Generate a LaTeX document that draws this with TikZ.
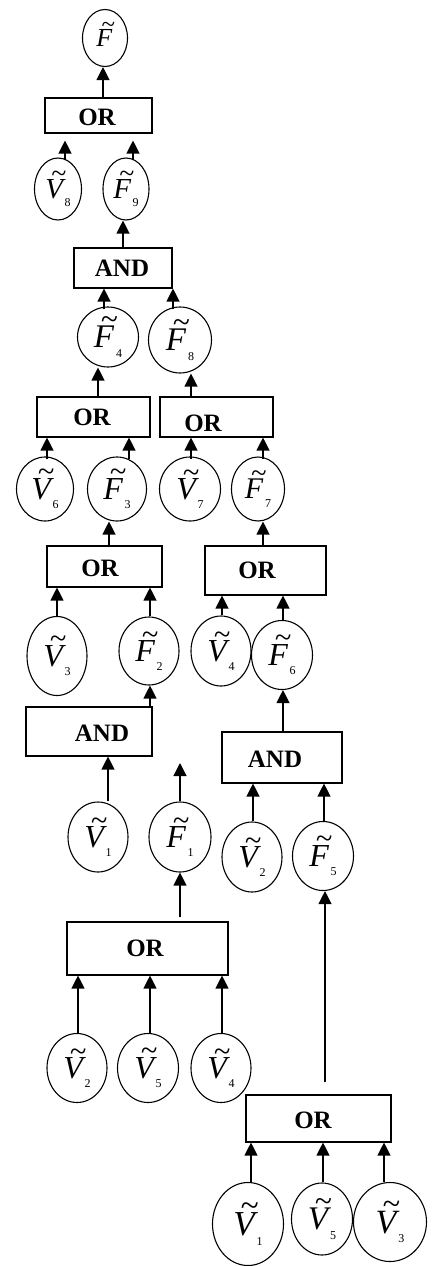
\documentclass[tikz,border=0pt]{standalone}
\usepackage{fontspec}
\setmainfont{Liberation Serif}
\usetikzlibrary{arrows.meta,shapes.geometric}
\newcommand\lbl[3][32]{\fontsize{#1}{#1}\selectfont\itshape\rlap{\kern0.2em\raisebox{0.55em}{\scalebox{0.95}{\textasciitilde}}}#2\kern0.06em\raisebox{-0.28em}{\fontsize{12}{12}\selectfont\upshape #3}}
\tikzset{
  ell/.style={draw, ellipse, line width=1.1pt, inner sep=0pt},
  gate/.style={draw, rectangle, line width=1.1pt, inner sep=0pt},
  gtext/.style={font=\fontsize{25}{25}\selectfont\bfseries, inner sep=0pt},
  arr/.style={line width=1.2pt, -{Triangle[width=13pt,length=13pt]}},
  st/.style={yshift=-3pt}
}
\begin{document}
\begin{tikzpicture}[x=1pt,y=-1pt]
\useasboundingbox (0,0) rectangle (431,1266);
% ellipses
\node[ell, minimum width=45pt, minimum height=57pt, label={center:{\lbl[26]{F}{}}}] (f) at (105,38) {};
\node[ell, minimum width=47pt, minimum height=62pt, label={center:{\lbl[29]{V}{8}}}] (v8) at (58,189) {};
\node[ell, minimum width=46pt, minimum height=62pt, label={center:{\lbl[29]{F}{9}}}] (f9) at (126,189) {};
\node[ell, minimum width=61pt, minimum height=60pt, label={center:{\lbl[33]{F}{4}}}] (f4) at (108,337) {};
\node[ell, minimum width=63pt, minimum height=66pt, label={center:{\lbl[33]{F}{8}}}] (f8) at (180,340) {};
\node[ell, minimum width=57pt, minimum height=64pt, label={center:{\lbl{V}{6}}}] (v6) at (45,489) {};
\node[ell, minimum width=59pt, minimum height=64pt, label={center:{\lbl{F}{3}}}] (f3) at (117,489) {};
\node[ell, minimum width=61pt, minimum height=64pt, label={center:{\lbl{V}{7}}}] (v7) at (190,489) {};
\node[ell, minimum width=53pt, minimum height=64pt, label={center:{\lbl[30]{F}{7}}}] (f7) at (258,489) {};
\node[ell, minimum width=60pt, minimum height=79pt, label={center:{\lbl{V}{3}}}] (v3) at (57,656) {};
\node[ell, minimum width=60pt, minimum height=68pt, label={center:{\lbl{F}{2}}}] (f2) at (149,651) {};
\node[ell, minimum width=60pt, minimum height=70pt, label={center:{\lbl{V}{4}}}] (v4a) at (221,651) {};
\node[ell, minimum width=61pt, minimum height=69pt, label={center:{\lbl{F}{6}}}] (f6) at (282,655) {};
\node[ell, minimum width=60pt, minimum height=70pt, label={center:{\lbl{V}{1}}}] (v1a) at (98,837) {};
\node[ell, minimum width=62pt, minimum height=70pt, label={center:{\lbl{F}{1}}}] (f1) at (180,837) {};
\node[ell, minimum width=60pt, minimum height=70pt, label={center:{\lbl{V}{2}}}] (v2a) at (252,857) {};
\node[ell, minimum width=61pt, minimum height=69pt, label={center:{\lbl{F}{5}}}] (f5) at (323,856) {};
\node[ell, minimum width=60pt, minimum height=69pt, label={center:{\lbl{V}{2}}}] (v2b) at (77,1068) {};
\node[ell, minimum width=61pt, minimum height=69pt, label={center:{\lbl{V}{5}}}] (v5b) at (148,1068) {};
\node[ell, minimum width=60pt, minimum height=69pt, label={center:{\lbl{V}{4}}}] (v4b) at (221,1068) {};
\node[ell, minimum width=71pt, minimum height=83pt, label={center:{\lbl[35]{V}{1}}}] (v1c) at (248,1224) {};
\node[ell, minimum width=61pt, minimum height=72pt, label={center:{\lbl[33]{V}{5}}}] (v5c) at (322,1219) {};
\node[ell, minimum width=73pt, minimum height=79pt, label={center:{\lbl[34]{V}{3}}}] (v3c) at (390,1222) {};
% gates
\node[gate, minimum width=107pt, minimum height=35pt] (or1) at (98.5,115.5) {};
\node[gate, minimum width=98pt, minimum height=40pt] (and1) at (123,268) {};
\node[gate, minimum width=113pt, minimum height=40pt] (or2l) at (93.5,417) {};
\node[gate, minimum width=113pt, minimum height=40pt] (or2r) at (216.5,417) {};
\node[gate, minimum width=115pt, minimum height=41pt] (or3l) at (104.5,566.5) {};
\node[gate, minimum width=121pt, minimum height=49pt] (or3r) at (265.5,570.5) {};
\node[gate, minimum width=126pt, minimum height=49pt] (and2l) at (89,731.5) {};
\node[gate, minimum width=120pt, minimum height=51pt] (and2r) at (282,757.5) {};
\node[gate, minimum width=161pt, minimum height=53pt] (or4l) at (147.5,948.5) {};
\node[gate, minimum width=145pt, minimum height=47pt] (or4r) at (318.5,1118.5) {};
\node[gtext] (t1) at (97,117) {OR};
\node[gtext] (t2) at (122,268) {AND};
\node[gtext] (t3) at (92,417) {OR};
\node[gtext] (t4) at (203,423) {OR};
\node[gtext] (t5) at (100,568) {OR};
\node[gtext] (t6) at (257,570) {OR};
\node[gtext] (t7) at (102,733) {AND};
\node[gtext] (t8) at (275,759) {AND};
\node[gtext] (t9) at (145,948) {OR};
\node[gtext] (t10) at (313,1120) {OR};
\coordinate (f1top) at (180,763);
% connectors
\draw[arr] ([xshift=-2pt]f.south |- or1.north) -- ([xshift=-2pt]f.south);
\draw[arr,shorten >=7pt] ([xshift=7pt,st]v8.north) -- ([xshift=7pt]v8.north |- or1.south);
\draw[arr,shorten >=7pt] ([xshift=7pt,st]f9.north) -- ([xshift=7pt]f9.north |- or1.south);
\draw[arr] ([xshift=-3pt]f9.south |- and1.north) -- ([xshift=-3pt]f9.south);
\draw[arr] ([xshift=-4pt,st]f4.north) -- ([xshift=-4pt]f4.north |- and1.south);
\draw[arr] ([xshift=-7pt,st]f8.north) -- ([xshift=-7pt]f8.north |- and1.south);
\draw[arr] ([xshift=-10pt]f4.south |- or2l.north) -- ([xshift=-10pt]f4.south);
\draw[arr] ([xshift=11pt]f8.south |- or2r.north) -- ([xshift=11pt]f8.south);
\draw[arr] ([xshift=2pt,st]v6.north) -- ([xshift=2pt]v6.north |- or2l.south);
\draw[arr] ([xshift=12pt,st]f3.north) -- ([xshift=12pt]f3.north |- or2l.south);
\draw[arr] ([xshift=1pt,st]v7.north) -- ([xshift=1pt]v7.north |- or2r.south);
\draw[arr] ([xshift=5pt,st]f7.north) -- ([xshift=5pt]f7.north |- or2r.south);
\draw[arr] ([xshift=-8pt]f3.south |- or3l.north) -- ([xshift=-8pt]f3.south);
\draw[arr] ([xshift=5pt]f7.south |- or3r.north) -- ([xshift=5pt]f7.south);
\draw[arr] (v3) -- (v3 |- or3l.south);
\draw[arr] ([xshift=1pt]f2.north) -- ([xshift=1pt]f2.north |- or3l.south);
\draw[arr] ([xshift=1pt]v4a.north) -- ([xshift=1pt]v4a.north |- or3r.south);
\draw[arr] ([xshift=1pt]f6.north) -- ([xshift=1pt]f6.north |- or3r.south);
\draw[arr] ([xshift=1pt]f2.south |- and2l.north) -- ([xshift=1pt]f2.south);
\draw[arr] ([xshift=1pt]f6.south |- and2r.north) -- ([xshift=1pt]f6.south);
\draw[arr] ([xshift=10pt]v1a.north) -- ([xshift=10pt]v1a.north |- and2l.south);
\draw[arr] (f1) -- (f1top);
\draw[arr,shorten <=4pt] (f1.south |- or4l.north) -- (f1.south);
\draw[arr] ([xshift=1pt]v2b.north) -- ([xshift=1pt]v2b.north |- or4l.south);
\draw[arr] ([xshift=2pt]v5b.north) -- ([xshift=2pt]v5b.north |- or4l.south);
\draw[arr] ([xshift=1pt]v4b.north) -- ([xshift=1pt]v4b.north |- or4l.south);
\draw[arr] ([xshift=1pt]v2a.north) -- ([xshift=1pt]v2a.north |- and2r.south);
\draw[arr] ([xshift=1pt]f5.north) -- ([xshift=1pt]f5.north |- and2r.south);
\draw[arr,shorten <=12pt] ([xshift=2pt]f5.south |- or4r.north) -- ([xshift=2pt]f5.south);
\draw[arr] ([xshift=3pt]v1c.north) -- ([xshift=3pt]v1c.north |- or4r.south);
\draw[arr] ([xshift=1pt]v5c.north) -- ([xshift=1pt]v5c.north |- or4r.south);
\draw[arr] ([xshift=-6pt]v3c.north) -- ([xshift=-6pt]v3c.north |- or4r.south);
\end{tikzpicture}
\end{document}
